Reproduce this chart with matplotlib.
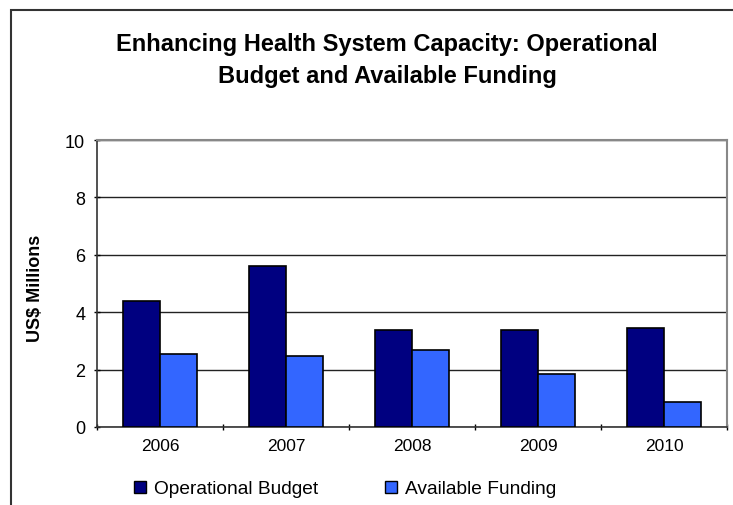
import numpy as np
import matplotlib.pyplot as plt
from matplotlib.patches import Rectangle
from matplotlib.patches import Patch

plt.rcParams['font.family'] = ['Liberation Sans', 'DejaVu Sans']

years = ['2006', '2007', '2008', '2009', '2010']
operational_budget = [4.4, 5.6, 3.37, 3.37, 3.44]
available_funding = [2.55, 2.48, 2.68, 1.84, 0.87]

budget_color = '#000080'
funding_color = '#3366FF'

fig = plt.figure(figsize=(7.33, 5.06), dpi=100)
ax = fig.add_axes([97 / 733, 1 - 428 / 506, 630 / 733, 287 / 506])

x = np.arange(len(years))
w = 0.29
ax.bar(x - w / 2, operational_budget, w, color=budget_color, edgecolor='black', linewidth=1.2, zorder=3)
ax.bar(x + w / 2, available_funding, w, color=funding_color, edgecolor='black', linewidth=1.2, zorder=3)

ax.set_xlim(-0.5, len(years) - 0.5)
ax.set_ylim(0, 10)
ax.set_yticks([0, 2, 4, 6, 8, 10])
ax.yaxis.grid(True, color='#222222', linewidth=1, zorder=0)

# category ticks sit between the groups
ax.set_xticks(np.arange(len(years) + 1) - 0.5)
ax.set_xticklabels([])
ax.set_xticks(x, minor=True)
ax.set_xticklabels(years, minor=True, fontsize=12.5)
ax.tick_params(axis='x', which='minor', length=0, pad=8)
ax.tick_params(axis='x', which='major', length=5, direction='inout', width=1)
ax.tick_params(axis='y', length=5, direction='inout', width=1, labelsize=13, pad=6)

for side in ['top', 'right']:
    ax.spines[side].set_color('#888888')
    ax.spines[side].set_linewidth(1.5)
for side in ['left', 'bottom']:
    ax.spines[side].set_color('#333333')
    ax.spines[side].set_linewidth(1.2)

fig.text(35 / 733, 1 - 288 / 506, 'US$ Millions', rotation=90, fontsize=13,
         fontweight='bold', ha='center', va='center')

fig.text(387 / 733, 1 - 45 / 506, 'Enhancing Health System Capacity: Operational',
         fontsize=17, fontweight='bold', ha='center', va='center')
fig.text(387 / 733, 1 - 76 / 506, 'Budget and Available Funding',
         fontsize=17, fontweight='bold', ha='center', va='center')

handles = [Patch(facecolor=budget_color, edgecolor='black', label='Operational Budget'),
           Patch(facecolor=funding_color, edgecolor='black', label='Available Funding')]
fig.legend(handles=handles, loc='center', bbox_to_anchor=(345 / 733, 1 - 490 / 506),
           ncol=2, frameon=False, fontsize=13.8, handlelength=0.62, handleheight=0.62,
           handletextpad=0.4, columnspacing=3.5, borderaxespad=0)

# outer chart frame running off the right and bottom edges
fig.patches.append(Rectangle((11 / 733, -0.1), 1.2, 1 - 11 / 506 + 0.1,
                             transform=fig.transFigure, fill=False,
                             edgecolor='#333333', linewidth=1.5))

fig.savefig('out.png', dpi=100)
